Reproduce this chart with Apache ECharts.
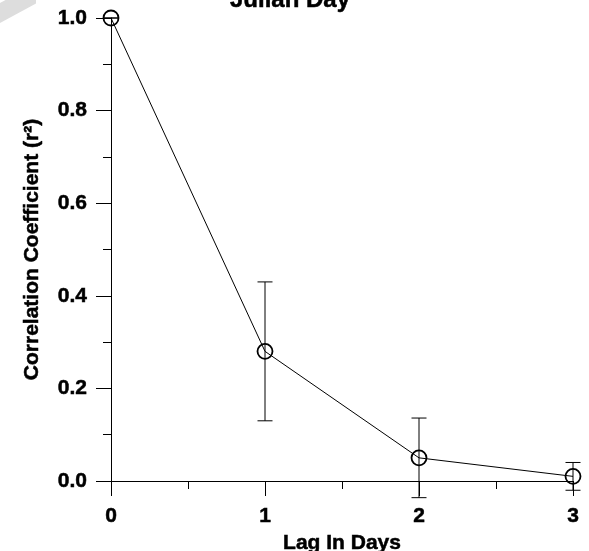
<!DOCTYPE html>
<html>
<head>
<meta charset="utf-8">
<script src="https://cdn.jsdelivr.net/npm/echarts@6/dist/echarts.min.js"></script>
<style>
  html, body { margin: 0; padding: 0; background: #fff; }
  #chart { width: 589px; height: 551px; }
</style>
</head>
<body>
<div id="chart"></div>
<script>
// Lag (days) and the correlation coefficient at each lag
const lagDays = [0, 1, 2, 3];
const r2Values = [1.0, 0.28, 0.05, 0.01];
// Half-width of the error bar at each lag
const r2Errors = [0.0, 0.15, 0.086, 0.03];
// Axis tick values
const xTicks = [0, 1, 2, 3];
const yTicks = [0.0, 0.2, 0.4, 0.6, 0.8, 1.0];

const FONT = '"Liberation Sans", Arial, Helvetica, sans-serif';

const linePoints = lagDays.map((x, i) => [x, r2Values[i]]);
const errPoints = lagDays.map((x, i) => [x, r2Values[i] - r2Errors[i], r2Values[i] + r2Errors[i]]);

const chart = echarts.init(document.getElementById('chart'), null, { renderer: 'canvas' });

// Heavy bold lettering: bold face plus a hairline outline
const axisText = {
  color: '#000', fontWeight: 'bold', fontSize: 21, fontFamily: FONT,
  textBorderColor: '#000', textBorderWidth: 0.5
};

chart.setOption({
  animation: false,
  backgroundColor: '#fff',
  title: {
    text: 'Julian Day',
    left: 230,
    top: -12,
    padding: 0,
    textStyle: {
      color: '#000', fontWeight: 'bold', fontSize: 24, fontFamily: FONT,
      textBorderColor: '#000', textBorderWidth: 0.5
    }
  },
  graphic: [{
    type: 'polygon',
    silent: true,
    shape: { points: [[0, 3], [5.5, 0], [36, 0], [36, 3.6], [0, 23]] },
    style: { fill: '#dddddd' },
    z: -1
  }],
  grid: { left: 111, right: 16, top: 18, bottom: 70, containLabel: false, outerBoundsMode: 'none' },
  xAxis: {
    type: 'value',
    min: 0,
    max: 3,
    interval: 1,
    name: 'Lag In Days',
    nameLocation: 'middle',
    nameGap: 47,
    nameTextStyle: axisText,
    axisLine: { show: true, onZero: false, lineStyle: { color: '#000', width: 1 } },
    axisTick: { show: true, inside: false, length: 15, lineStyle: { color: '#000', width: 1 } },
    minorTick: { show: true, splitNumber: 2, length: 8, lineStyle: { color: '#000', width: 1 } },
    splitLine: { show: false },
    axisLabel: Object.assign({ margin: 25, formatter: v => xTicks.includes(v) ? String(v) : '' }, axisText)
  },
  yAxis: {
    type: 'value',
    min: 0,
    max: 1,
    interval: 0.2,
    name: 'Correlation Coefficient (r²)',
    nameLocation: 'middle',
    nameGap: 68,
    nameRotate: 90,
    nameTextStyle: axisText,
    axisLine: { show: true, onZero: false, lineStyle: { color: '#000', width: 1 } },
    axisTick: { show: true, inside: false, length: 15, lineStyle: { color: '#000', width: 1 } },
    minorTick: { show: true, splitNumber: 2, length: 8, lineStyle: { color: '#000', width: 1 } },
    splitLine: { show: false },
    axisLabel: Object.assign({
      margin: 24,
      formatter: v => {
        const t = yTicks.find(k => Math.abs(k - v) < 1e-9);
        return t === undefined ? '' : t.toFixed(1);
      }
    }, axisText)
  },
  series: [
    {
      type: 'custom',
      name: 'error',
      clip: false,
      data: errPoints,
      z: 2,
      renderItem: (params, api) => {
        const x = api.value(0);
        const lo = api.coord([x, api.value(1)]);
        const hi = api.coord([x, api.value(2)]);
        const half = 7.5;
        const style = { stroke: '#000', lineWidth: 1 };
        return {
          type: 'group',
          children: [
            { type: 'line', shape: { x1: lo[0], y1: lo[1], x2: hi[0], y2: hi[1] }, style },
            { type: 'line', shape: { x1: lo[0] - half, y1: lo[1], x2: lo[0] + half, y2: lo[1] }, style },
            { type: 'line', shape: { x1: hi[0] - half, y1: hi[1], x2: hi[0] + half, y2: hi[1] }, style }
          ]
        };
      }
    },
    {
      type: 'line',
      name: 'r2',
      data: linePoints,
      clip: false,
      z: 3,
      symbol: 'circle',
      symbolSize: 15,
      showAllSymbol: true,
      lineStyle: { color: '#000', width: 1 },
      itemStyle: { color: 'rgba(0,0,0,0)', borderColor: '#000', borderWidth: 1.8 }
    }
  ]
});
</script>
</body>
</html>
